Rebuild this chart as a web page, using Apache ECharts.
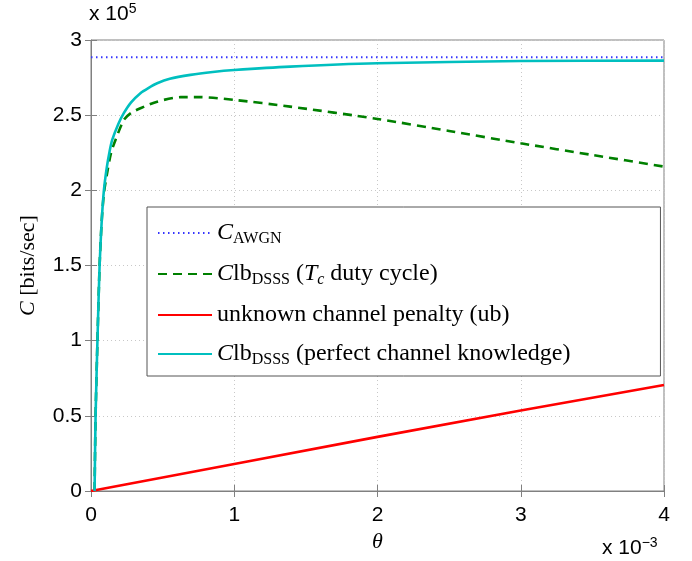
<!DOCTYPE html>
<html>
<head>
<meta charset="utf-8">
<script src="https://cdn.jsdelivr.net/npm/echarts@6/dist/echarts.min.js"></script>
<style>
  html, body { margin: 0; padding: 0; background: #fff; }
  #chart { width: 692px; height: 561px; }
</style>
</head>
<body>
<div id="chart"></div>
<script>
// theta in units of 1e-3, capacity in units of 1e5 bits/sec
const xTicks = [0, 1, 2, 3, 4];
const yTicks = [0, 0.5, 1, 1.5, 2, 2.5, 3];

const awgnTheta = [0, 4];
const awgnC = [2.885, 2.885];

const dutyTheta = [0.025, 0.032, 0.045, 0.06, 0.075, 0.09, 0.11, 0.14, 0.171, 0.229, 0.28, 0.345, 0.462, 0.625, 0.764, 0.997, 1.39, 2.0, 2.5, 3.0, 3.5, 4.0];
const dutyC = [0, 0.5, 1.0, 1.5, 1.8, 1.98, 2.1, 2.25, 2.335, 2.468, 2.515, 2.546, 2.59, 2.62, 2.62, 2.602, 2.557, 2.475, 2.395, 2.313, 2.235, 2.158];

const penaltyTheta = [0, 1, 2, 3, 4];
const penaltyC = [0, 0.18, 0.36, 0.535, 0.705];

const perfectTheta = [0.025, 0.032, 0.045, 0.06, 0.075, 0.09, 0.11, 0.13, 0.148, 0.19, 0.229, 0.28, 0.345, 0.4, 0.462, 0.55, 0.694, 0.85, 1.0, 1.39, 2.0, 3.0, 4.0];
const perfectC = [0, 0.5, 1.0, 1.5, 1.8, 2.0, 2.15, 2.26, 2.335, 2.44, 2.513, 2.585, 2.646, 2.68, 2.712, 2.742, 2.768, 2.787, 2.80, 2.823, 2.845, 2.86, 2.863];

const zip = (xs, ys) => xs.map((x, i) => [x, ys[i]]);

const serif = '"Liberation Serif", "DejaVu Serif", serif';
const sans = '"Liberation Sans", Arial, sans-serif';

const richText = {
  n: { fontFamily: serif, fontSize: 24, lineHeight: 28, color: '#000' },
  i: { fontFamily: serif, fontSize: 24, lineHeight: 28, fontStyle: 'italic', color: '#000' },
  s: { fontFamily: serif, fontSize: 16, lineHeight: 16, color: '#000', verticalAlign: 'bottom' },
  si: { fontFamily: serif, fontSize: 16, lineHeight: 16, fontStyle: 'italic', color: '#000', verticalAlign: 'bottom' }
};

const names = {
  awgn: 'C_AWGN',
  duty: 'Clb_DSSS duty',
  penalty: 'unknown channel penalty (ub)',
  perfect: 'Clb_DSSS perfect'
};

const legendLabels = {};
legendLabels[names.awgn] = '{i|C}{s|AWGN}';
legendLabels[names.duty] = '{i|C}{n|lb}{s|DSSS}{n| (}{i|T}{si|c}{n| duty cycle)}';
legendLabels[names.penalty] = '{n|unknown channel penalty (ub)}';
legendLabels[names.perfect] = '{i|C}{n|lb}{s|DSSS}{n| (perfect channel knowledge)}';

const chart = echarts.init(document.getElementById('chart'), null, { renderer: 'canvas' });

const supStyle = {
  a: { fontFamily: sans, fontSize: 21, lineHeight: 24, color: '#000' },
  b: { fontFamily: sans, fontSize: 14, lineHeight: 14, color: '#000', verticalAlign: 'top' }
};

const option = {
  backgroundColor: '#fff',
  animation: false,
  grid: {
    left: 91, right: 28, top: 40, bottom: 70,
    show: true, borderColor: '#808080', borderWidth: 1
  },
  legend: {
    orient: 'vertical',
    left: 147, top: 207,
    padding: [14, 90, 8, 10],
    itemGap: 15,
    itemWidth: 54,
    itemHeight: 20,
    backgroundColor: '#fff',
    borderColor: '#555',
    borderWidth: 1,
    itemStyle: { opacity: 0 },
    data: [names.awgn, names.duty, names.penalty, names.perfect],
    formatter: (name) => legendLabels[name],
    textStyle: { rich: richText }
  },
  xAxis: [{
    type: 'value',
    min: 0, max: 4, interval: 1,
    name: '{i|θ}',
    nameLocation: 'middle',
    nameGap: 40,
    nameTextStyle: { rich: { i: { fontFamily: serif, fontSize: 22, fontStyle: 'italic', color: '#000' } } },
    axisLine: { show: true, lineStyle: { color: '#808080' } },
    axisTick: { show: true, inside: true, length: 6, lineStyle: { color: '#808080' } },
    axisLabel: { color: '#000', fontFamily: sans, fontSize: 21, margin: 14 },
    splitLine: { show: true, lineStyle: { color: '#c8c8c8', type: [1, 3] } }
  }, {
    type: 'value',
    position: 'top',
    min: 0, max: 4, interval: 1,
    axisLine: { show: false },
    axisTick: { show: true, inside: true, length: 6, lineStyle: { color: '#808080' } },
    axisLabel: { show: false },
    splitLine: { show: false }
  }],
  yAxis: [{
    type: 'value',
    min: 0, max: 3, interval: 0.5,
    name: '{i|C}{n| [bits/sec]}',
    nameLocation: 'middle',
    nameGap: 52,
    nameRotate: 90,
    nameTextStyle: { rich: {
      i: { fontFamily: serif, fontSize: 22, fontStyle: 'italic', color: '#000' },
      n: { fontFamily: serif, fontSize: 22, color: '#000' }
    } },
    axisLine: { show: true, lineStyle: { color: '#808080' } },
    axisTick: { show: true, inside: true, length: 6, lineStyle: { color: '#808080' } },
    axisLabel: { color: '#000', fontFamily: sans, fontSize: 21, margin: 9,
      formatter: (v) => String(v) },
    splitLine: { show: true, lineStyle: { color: '#c8c8c8', type: [1, 3] } }
  }, {
    type: 'value',
    position: 'right',
    min: 0, max: 3, interval: 0.5,
    axisLine: { show: false },
    axisTick: { show: true, inside: true, length: 6, lineStyle: { color: '#808080' } },
    axisLabel: { show: false },
    splitLine: { show: false }
  }],
  graphic: [{
    type: 'text',
    left: 89, top: 2,
    style: { text: '{a|x 10}{b|5}', rich: supStyle }
  }, {
    type: 'text',
    left: 602, top: 536,
    style: { text: '{a|x 10}{b|−3}', rich: supStyle }
  }],
  series: [{
    name: names.awgn,
    type: 'line',
    data: zip(awgnTheta, awgnC),
    symbol: 'none',
    lineStyle: { color: '#3535ff', width: 2, type: [1.5, 3.5] },
    itemStyle: { color: '#3535ff' }
  }, {
    name: names.duty,
    type: 'line',
    data: zip(dutyTheta, dutyC),
    symbol: 'none',
    smooth: 0.25,
    lineStyle: { color: '#008000', width: 2.6, type: [9, 6] },
    itemStyle: { color: '#008000' }
  }, {
    name: names.penalty,
    type: 'line',
    data: zip(penaltyTheta, penaltyC),
    symbol: 'none',
    lineStyle: { color: '#ff0000', width: 2.6 },
    itemStyle: { color: '#ff0000' }
  }, {
    name: names.perfect,
    type: 'line',
    data: zip(perfectTheta, perfectC),
    symbol: 'none',
    smooth: 0.25,
    lineStyle: { color: '#00bfbf', width: 2.6 },
    itemStyle: { color: '#00bfbf' }
  }]
};

chart.setOption(option);
</script>
</body>
</html>
